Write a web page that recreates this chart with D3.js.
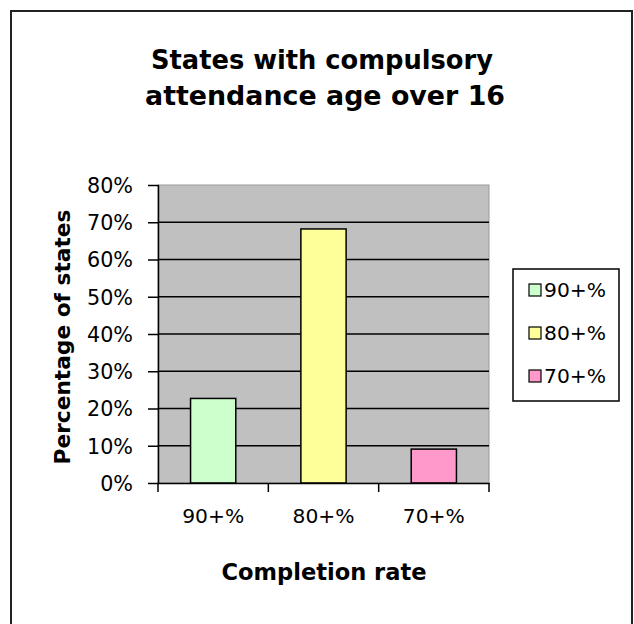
<!DOCTYPE html>
<html>
<head>
<meta charset="utf-8">
<script src="https://cdn.jsdelivr.net/npm/d3@7"></script>
<style>
html,body{margin:0;padding:0;background:#fff;}
svg{display:block;}
text{font-family:"Century Gothic","DejaVu Sans",sans-serif;fill:#000;}
</style>
</head>
<body>
<svg id="chart" width="634" height="624"></svg>
<script>
const categories = ["90+%", "80+%", "70+%"];
const values = [0.227, 0.682, 0.091];
const colors = ["#ccffcc", "#ffff99", "#ff99cc"];
const yTicks = [0, 0.1, 0.2, 0.3, 0.4, 0.5, 0.6, 0.7, 0.8];
const titleLines = ["States with compulsory", "attendance age over 16"];
const yTitle = "Percentage of states";
const xTitle = "Completion rate";

const svg = d3.select("#chart");
const FONT = "'Century Gothic','DejaVu Sans',sans-serif";

function fit(sel, targetW) {
  const n = sel.node();
  const fs = parseFloat(sel.attr("font-size"));
  const w = n.getComputedTextLength();
  sel.attr("font-size", (fs * targetW / w).toFixed(2));
}
function fitSize(str, base, targetW, weight) {
  const t = svg.append("text").attr("font-size", base).attr("font-weight", weight || "normal").text(str);
  const w = t.node().getComputedTextLength();
  t.remove();
  return +(base * targetW / w).toFixed(2);
}

// outer frame
svg.append("rect").attr("x", 11).attr("y", 11).attr("width", 621).attr("height", 640)
  .attr("fill", "#fff").attr("stroke", "#222").attr("stroke-width", 2);

const plot = {left: 158, right: 489, top: 185, bottom: 483};
const x = d3.scaleBand().domain(categories).range([plot.left, plot.right]).padding(0);
const y = d3.scaleLinear().domain([0, 0.8]).range([plot.bottom, plot.top]);

const tickFs = fitSize("80%", 17, 46);
const catFs = fitSize("90+%", 17, 62);

// plot background
svg.append("rect").attr("x", plot.left).attr("y", plot.top)
  .attr("width", plot.right - plot.left).attr("height", plot.bottom - plot.top)
  .attr("fill", "#c0c0c0").attr("stroke", "#9a9a9a").attr("stroke-width", 1);

// gridlines
svg.append("g").selectAll("line").data(yTicks.filter(d => d > 0 && d < 0.8)).join("line")
  .attr("x1", plot.left).attr("x2", plot.right)
  .attr("y1", d => y(d)).attr("y2", d => y(d))
  .attr("stroke", "#000").attr("stroke-width", 1.5);

// bars
const bw = x.bandwidth() * 0.41;
svg.append("g").selectAll("rect").data(categories).join("rect")
  .attr("x", d => x(d) + (x.bandwidth() - bw) / 2)
  .attr("y", (d, i) => y(values[i]))
  .attr("width", bw)
  .attr("height", (d, i) => y(0) - y(values[i]))
  .attr("fill", (d, i) => colors[i])
  .attr("stroke", "#000").attr("stroke-width", 1.5);

// y axis
const yAxis = d3.axisLeft(y).tickValues(yTicks).tickFormat(d3.format(".0%"))
  .tickSize(9).tickPadding(14).tickSizeOuter(0);
const gy = svg.append("g").attr("transform", `translate(${plot.left},0)`).call(yAxis);
gy.select(".domain").attr("stroke", "#000").attr("stroke-width", 1.5);
gy.selectAll(".tick line").attr("stroke", "#000").attr("stroke-width", 1.5).attr("x2", -10).attr("x1", 1);
gy.selectAll(".tick text").attr("font-size", tickFs).attr("font-family", FONT).attr("fill", "#111")
  .attr("x", -25).attr("dy", "0.36em");

// x axis
const xAxis = d3.axisBottom(x).tickSize(0).tickPadding(26);
const gx = svg.append("g").attr("transform", `translate(0,${plot.bottom})`).call(xAxis);
gx.select(".domain").attr("stroke", "#000").attr("stroke-width", 1.5);
gx.selectAll(".tick text").attr("font-size", catFs).attr("font-family", FONT).attr("fill", "#111");
// boundary ticks
const bounds = categories.map(c => x(c)).concat([plot.right]);
gx.selectAll("line.bt").data(bounds).join("line").attr("class", "bt")
  .attr("x1", d => d).attr("x2", d => d).attr("y1", 0).attr("y2", 9)
  .attr("stroke", "#000").attr("stroke-width", 1.5);

// title
const tt = svg.append("g");
const t1 = tt.append("text").attr("x", 322).attr("y", 69).attr("text-anchor", "middle")
  .attr("font-weight", "bold").attr("font-size", 26).text(titleLines[0]);
fit(t1, 342);
const t2 = tt.append("text").attr("x", 325).attr("y", 105).attr("text-anchor", "middle")
  .attr("font-weight", "bold").attr("font-size", 26).text(titleLines[1]);
fit(t2, 360);

// axis titles
const yt = svg.append("text").attr("transform", "translate(70,337) rotate(-90)")
  .attr("text-anchor", "middle").attr("font-weight", "bold").attr("font-size", 19).text(yTitle);
fit(yt, 255);
const xt = svg.append("text").attr("x", 324).attr("y", 580).attr("text-anchor", "middle")
  .attr("font-weight", "bold").attr("font-size", 19).text(xTitle);
fit(xt, 205);

// legend
const lg = svg.append("g");
lg.append("rect").attr("x", 513).attr("y", 269).attr("width", 106).attr("height", 132)
  .attr("fill", "#fff").attr("stroke", "#000").attr("stroke-width", 1.5);
const items = lg.selectAll("g.item").data(categories).join("g").attr("class", "item")
  .attr("transform", (d, i) => `translate(529,${290 + i * 43})`);
items.append("rect").attr("x", 0).attr("y", -6).attr("width", 12).attr("height", 12)
  .attr("fill", (d, i) => colors[i]).attr("stroke", "#000").attr("stroke-width", 1.2);
items.append("text").attr("x", 15).attr("y", 0).attr("dy", "0.36em").attr("font-size", catFs)
  .attr("fill", "#111").text(d => d);
</script>
</body>
</html>
